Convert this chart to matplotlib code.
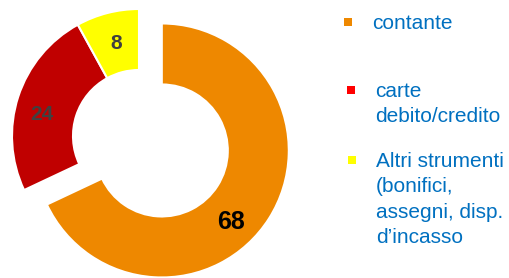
import matplotlib.pyplot as plt

plt.rcParams['font.family'] = ['Liberation Sans', 'DejaVu Sans']

# Data
categories = ["contante", "carte\ndebito/credito", "Altri strumenti\n(bonifici,\nassegni, disp.\nd\u2019incasso"]
values = [68, 24, 8]
slice_colors = ["#EE8800", "#C00000", "#FFFF00"]
legend_colors = ["#EE8800", "#FF0000", "#FFFF00"]
label_colors = ["#000000", "#404040", "#404040"]

W, H = 510, 278
fig = plt.figure(figsize=(W / 100, H / 100), dpi=100)
ax = fig.add_axes([0, 0, 1, 1])

# Donut (pixel units)
R = 127
wedges, _ = ax.pie(values, colors=slice_colors, startangle=90, counterclock=False,
                   center=(139, H - 136), radius=R, explode=[27, 0, 0],
                   wedgeprops=dict(width=61, edgecolor="white", linewidth=1.5),
                   frame=True)
ax.set_xlim(0, W)
ax.set_ylim(0, H)
ax.set_aspect("equal")
ax.axis("off")

# value labels
label_pos = [(231, H - 222), (42, H - 114), (116, H - 43)]
label_size = [18, 15, 15]
for v, (x, y), c, s in zip(values, label_pos, label_colors, label_size):
    ax.text(x, y, str(v), ha="center", va="center", fontsize=s,
            fontweight="bold", color=c)

# legend
marker_y = [22, 90, 160]
marker_x = [348, 351, 352]
text_x = [372, 375, 376]
for cat, col, mx, my, tx in zip(categories, legend_colors, marker_x, marker_y, text_x):
    ax.scatter([mx], [H - my], marker="s", s=36, color=col, linewidths=0)
    ax.text(tx, H - my + 8, cat, ha="left", va="top", fontsize=15,
            color="#0070C0", linespacing=1.42)

fig.savefig("out.png", dpi=100)
